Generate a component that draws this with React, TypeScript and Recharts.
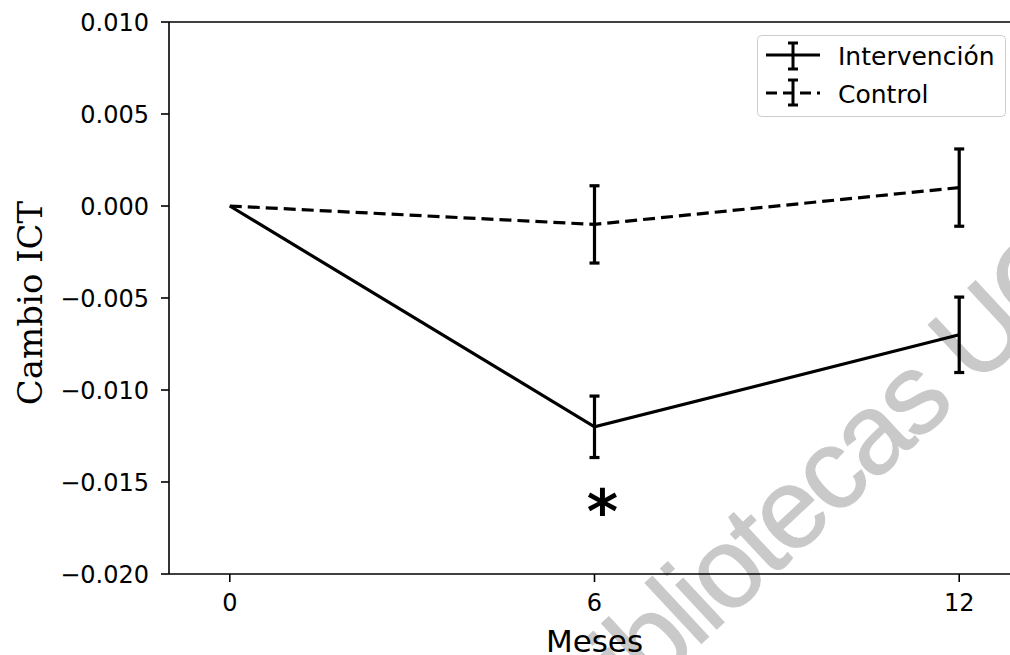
import {
  ErrorBar,
  Legend,
  Line,
  LineChart,
  ReferenceDot,
  ReferenceLine,
  XAxis,
  YAxis,
} from "recharts";

// values
const months = [0, 6, 12];
const intervencion = [0, -0.012, -0.007];
const intervencionErr = [0, 0.00167, 0.00205];
const control = [0, -0.001, 0.001];
const controlErr = [0, 0.0021, 0.0021];
const xTicks = [0, 6, 12];
const yTicks = [-0.02, -0.015, -0.01, -0.005, 0, 0.005, 0.01];
const seriesNames = ["Intervención", "Control"];
const starMark = { x: 6, y: -0.0159, text: "*" };
const watermark = "Bibliotecas UC";

const data = months.map((m, i) => ({
  mes: m,
  intervencion: intervencion[i],
  intervencionErr: intervencionErr[i],
  control: control[i],
  controlErr: controlErr[i],
}));

const FONT = "'DejaVu Sans', sans-serif";
const INK = "#000";

function fmtY(v: number) {
  const s = Math.abs(v).toFixed(3);
  return v < -1e-12 ? "\u2212" + s : s;
}

function LegendBox() {
  return (
    <svg width={250} height={83} style={{ display: "block" }}>
      <rect x={0.5} y={0.5} width={248} height={81} rx={4} fill="#fff" fillOpacity={0.8} stroke="#cccccc" />
      {/* solid sample */}
      <line x1={9} y1={20} x2={63} y2={20} stroke={INK} strokeWidth={3} />
      <line x1={36} y1={8} x2={36} y2={34} stroke={INK} strokeWidth={3} />
      <line x1={31} y1={8} x2={41} y2={8} stroke={INK} strokeWidth={3} />
      <line x1={31} y1={34} x2={41} y2={34} stroke={INK} strokeWidth={3} />
      <text x={81} y={30} fontFamily={FONT} fontSize={25} fill={INK}>{seriesNames[0]}</text>
      {/* dashed sample */}
      <line x1={9} y1={58} x2={63} y2={58} stroke={INK} strokeWidth={3} strokeDasharray="11 6" />
      <line x1={36} y1={45} x2={36} y2={70} stroke={INK} strokeWidth={3} />
      <line x1={31} y1={45} x2={41} y2={45} stroke={INK} strokeWidth={3} />
      <line x1={31} y1={70} x2={41} y2={70} stroke={INK} strokeWidth={3} />
      <text x={81} y={68} fontFamily={FONT} fontSize={25} fill={INK}>{seriesNames[1]}</text>
    </svg>
  );
}

export default function App() {
  return (
    <div
      style={{
        position: "fixed",
        left: 0,
        top: 0,
        width: 1010,
        height: 655,
        overflow: "hidden",
        background: "#fff",
      }}
    >
      <svg width={1010} height={655} style={{ position: "absolute", left: 0, top: 0, zIndex: 0 }}>
        <text
          transform="translate(584, 753) rotate(-43)"
          fontFamily="'Liberation Sans', Arial, sans-serif"
          fontSize={114}
          letterSpacing={-4}
          fill="#c9c9c9"
          stroke="#c9c9c9"
          strokeWidth={1}
        >
          {watermark}
        </text>
      </svg>
      <div style={{ position: "absolute", left: 0, top: 0, zIndex: 1 }}>
        <LineChart width={1040} height={655} data={data} margin={{ top: 22, right: 20, left: 0, bottom: 0 }}>
          <XAxis
            dataKey="mes"
            type="number"
            domain={[-1, 13]}
            ticks={xTicks}
            allowDataOverflow
            height={81}
            tickSize={8}
            tickMargin={12}
            stroke={INK}
            strokeWidth={1.6}
            tick={{ fontFamily: FONT, fontSize: 24, fill: INK }}
            label={{
              content: ({ viewBox }: any) => (
                <text
                  x={viewBox.x + viewBox.width / 2}
                  y={652}
                  textAnchor="middle"
                  fontFamily={FONT}
                  fontSize={31}
                  fill={INK}
                >
                  Meses
                </text>
              ),
            }}
          />
          <YAxis
            type="number"
            domain={[-0.02, 0.01]}
            ticks={yTicks}
            allowDataOverflow
            width={169}
            tickSize={8}
            tickMargin={12}
            stroke={INK}
            strokeWidth={1.6}
            tickFormatter={fmtY}
            tick={{ fontFamily: FONT, fontSize: 24, fill: INK }}
            label={{
              content: () => (
                <text
                  transform="translate(42, 303) rotate(-90)"
                  textAnchor="middle"
                  fontFamily="'DejaVu Serif', serif"
                  fontSize={34}
                  fill={INK}
                >
                  Cambio ICT
                </text>
              ),
            }}
          />
          <ReferenceLine y={0.01} stroke={INK} strokeWidth={1.6} ifOverflow="visible" />
          <Line
            dataKey="intervencion"
            name={seriesNames[0]}
            type="linear"
            stroke={INK}
            strokeWidth={3.2}
            dot={false}
            isAnimationActive={false}
          >
            <ErrorBar dataKey="intervencionErr" direction="y" width={5} stroke={INK} strokeWidth={3.2} isAnimationActive={false} />
          </Line>
          <Line
            dataKey="control"
            name={seriesNames[1]}
            type="linear"
            stroke={INK}
            strokeWidth={3.2}
            strokeDasharray="12 6"
            dot={false}
            isAnimationActive={false}
          >
            <ErrorBar dataKey="controlErr" direction="y" width={5} stroke={INK} strokeWidth={3.2} isAnimationActive={false} />
          </Line>
          <ReferenceDot
            x={starMark.x}
            y={starMark.y}
            r={0}
            ifOverflow="visible"
            shape={(p: any) => (
              <text
                x={p.cx + 8}
                y={p.cy + 34}
                textAnchor="middle"
                fontFamily={FONT}
                fontWeight="bold"
                fontSize={60}
                fill={INK}
              >
                {starMark.text}
              </text>
            )}
          />
          <Legend
            layout="vertical"
            align="center"
            verticalAlign="middle"
            wrapperStyle={{ position: "absolute", left: 757, top: 35, width: 250, height: 83 }}
            content={() => <LegendBox />}
          />
        </LineChart>
      </div>
    </div>
  );
}
